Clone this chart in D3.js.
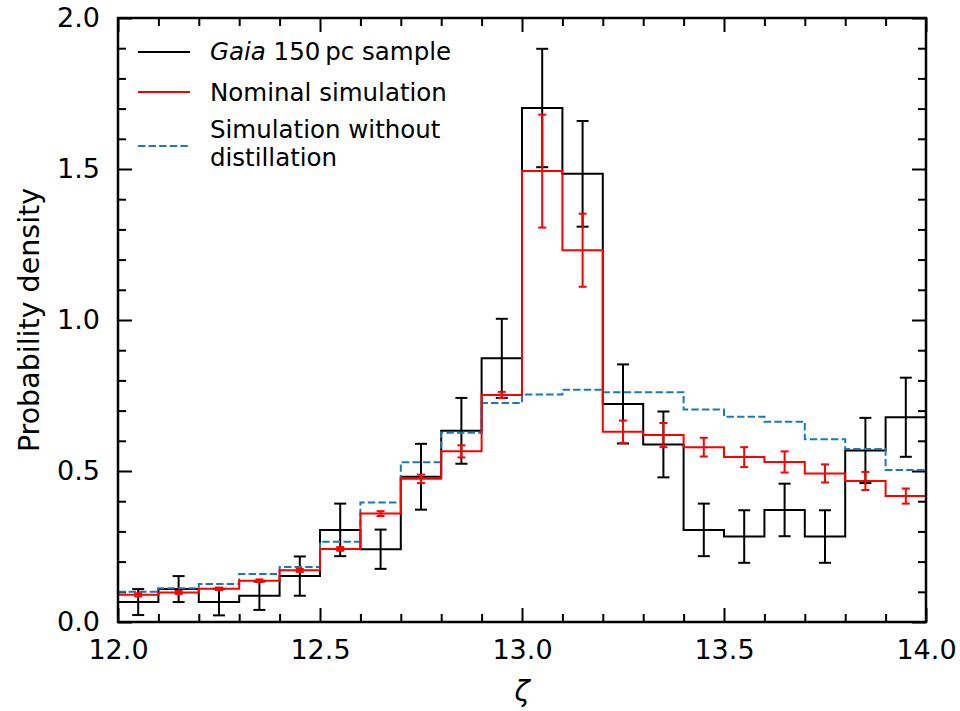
<!DOCTYPE html>
<html>
<head>
<meta charset="utf-8">
<script src="https://cdn.jsdelivr.net/npm/d3@7"></script>
<style>
  body { margin: 0; background: #fff; }
  svg text { font-family: "DejaVu Sans", sans-serif; }
</style>
</head>
<body>
<div id="container"></div>
<script>
/* DATA */
const binEdges = [12.0, 12.1, 12.2, 12.3, 12.4, 12.5, 12.6, 12.7, 12.8, 12.9,
                  13.0, 13.1, 13.2, 13.3, 13.4, 13.5, 13.6, 13.7, 13.8, 13.9, 14.0];
const binCenters = [12.05, 12.15, 12.25, 12.35, 12.45, 12.55, 12.65, 12.75, 12.85, 12.95,
                    13.05, 13.15, 13.25, 13.35, 13.45, 13.55, 13.65, 13.75, 13.85, 13.95];

const gaiaValues = [0.066, 0.109, 0.066, 0.087, 0.152, 0.305, 0.241, 0.481, 0.633, 0.873,
                    1.702, 1.484, 0.722, 0.588, 0.305, 0.283, 0.371, 0.283, 0.568, 0.678];
const gaiaErrors = [0.043, 0.043, 0.044, 0.047, 0.065, 0.087, 0.065, 0.109, 0.109, 0.131,
                    0.196, 0.175, 0.131, 0.109, 0.087, 0.087, 0.087, 0.087, 0.108, 0.131];

const nominalValues = [0.090, 0.098, 0.110, 0.137, 0.171, 0.242, 0.359, 0.474, 0.565, 0.752,
                       1.493, 1.231, 0.630, 0.619, 0.579, 0.546, 0.530, 0.492, 0.467, 0.417];
const nominalErrors = [0.005, 0.005, 0.004, 0.004, 0.005, 0.006, 0.008, 0.014, 0.020, 0.010,
                       0.187, 0.121, 0.037, 0.040, 0.031, 0.033, 0.035, 0.030, 0.030, 0.025];

const noDistillValues = [0.100, 0.112, 0.126, 0.159, 0.182, 0.266, 0.396, 0.529, 0.627, 0.725,
                         0.753, 0.769, 0.761, 0.761, 0.704, 0.680, 0.663, 0.605, 0.573, 0.503];

const xMajorTicks = [12.0, 12.5, 13.0, 13.5, 14.0];
const yMajorTicks = [0.0, 0.5, 1.0, 1.5, 2.0];

/* CONSTANTS */
const width = 960;
const height = 711;
const margin = { top: 18, left: 118, right: 34, bottom: 89 };

const xScale = d3.scaleLinear()
  .domain([12.0, 14.0])
  .range([margin.left, width - margin.right]);

const yScale = d3.scaleLinear()
  .domain([0, 2.0])
  .range([height - margin.bottom, margin.top]);

const xMinor = d3.range(120, 141).map((d) => d / 10).filter((d) => !xMajorTicks.includes(d));
const yMinor = d3.range(0, 21).map((d) => d / 10).filter((d) => !yMajorTicks.includes(d));

const svg = d3.select("#container")
  .append("svg")
  .attr("width", width)
  .attr("height", height);

/* AXES ################################################ */
const tickFont = "27px";
const plotBottom = height - margin.bottom;
const plotRight = width - margin.right;

function styleAxis(g) {
  g.select(".domain").remove();
  g.selectAll(".tick line").attr("stroke", "#000").attr("stroke-width", 2);
  g.selectAll(".tick text").style("font-size", tickFont).attr("fill", "#000");
}

// bottom
svg.append("g")
  .attr("transform", `translate(0,${plotBottom})`)
  .call(d3.axisBottom(xScale).tickValues(xMajorTicks).tickSize(-14).tickPadding(18)
    .tickFormat(d3.format(".1f")))
  .call(styleAxis);
svg.append("g")
  .attr("transform", `translate(0,${plotBottom})`)
  .call(d3.axisBottom(xScale).tickValues(xMinor).tickSize(-8).tickFormat(""))
  .call(styleAxis);
// top
svg.append("g")
  .attr("transform", `translate(0,${margin.top})`)
  .call(d3.axisTop(xScale).tickValues(xMajorTicks).tickSize(-14).tickFormat(""))
  .call(styleAxis);
svg.append("g")
  .attr("transform", `translate(0,${margin.top})`)
  .call(d3.axisTop(xScale).tickValues(xMinor).tickSize(-8).tickFormat(""))
  .call(styleAxis);
// left
svg.append("g")
  .attr("transform", `translate(${margin.left},0)`)
  .call(d3.axisLeft(yScale).tickValues(yMajorTicks).tickSize(-14).tickPadding(18)
    .tickFormat(d3.format(".1f")))
  .call(styleAxis);
svg.append("g")
  .attr("transform", `translate(${margin.left},0)`)
  .call(d3.axisLeft(yScale).tickValues(yMinor).tickSize(-8).tickFormat(""))
  .call(styleAxis);
// right
svg.append("g")
  .attr("transform", `translate(${plotRight},0)`)
  .call(d3.axisRight(yScale).tickValues(yMajorTicks).tickSize(-14).tickFormat(""))
  .call(styleAxis);
svg.append("g")
  .attr("transform", `translate(${plotRight},0)`)
  .call(d3.axisRight(yScale).tickValues(yMinor).tickSize(-8).tickFormat(""))
  .call(styleAxis);

// AXIS LABELS
svg.append("text")
  .attr("x", xScale(13.0))
  .attr("y", 701)
  .attr("text-anchor", "middle")
  .style("font-size", "28px")
  .style("font-style", "italic")
  .text("ζ");

svg.append("text")
  .attr("transform", `translate(39,${yScale(1.0)}) rotate(-90)`)
  .attr("text-anchor", "middle")
  .style("font-size", "28.5px")
  .text("Probability density");

/* SERIES ############################################## */
const stepLine = d3.line()
  .x((d) => xScale(d[0]))
  .y((d) => yScale(d[1]))
  .curve(d3.curveStepAfter);

function stepPoints(values) {
  const pts = values.map((v, i) => [binEdges[i], v]);
  pts.push([binEdges[binEdges.length - 1], values[values.length - 1]]);
  return pts;
}

const plot = svg.append("g");

function drawErrorBars(values, errors, color, cap, cls) {
  const g = plot.append("g").attr("class", cls);
  g.selectAll("line.bar")
    .data(values)
    .join("line")
    .attr("class", "bar")
    .attr("x1", (_, i) => xScale(binCenters[i]))
    .attr("x2", (_, i) => xScale(binCenters[i]))
    .attr("y1", (d, i) => yScale(d - errors[i]))
    .attr("y2", (d, i) => yScale(d + errors[i]))
    .attr("stroke", color)
    .attr("stroke-width", 2);
  [-1, 1].forEach((s) => {
    g.selectAll(`line.cap${s}`)
      .data(values)
      .join("line")
      .attr("class", `cap${s}`)
      .attr("x1", (_, i) => xScale(binCenters[i]) - cap)
      .attr("x2", (_, i) => xScale(binCenters[i]) + cap)
      .attr("y1", (d, i) => yScale(d + s * errors[i]))
      .attr("y2", (d, i) => yScale(d + s * errors[i]))
      .attr("stroke", color)
      .attr("stroke-width", 2);
  });
}

// Gaia sample
plot.append("path")
  .attr("d", stepLine(stepPoints(gaiaValues)))
  .attr("fill", "none")
  .attr("stroke", "#000")
  .attr("stroke-width", 2);
drawErrorBars(gaiaValues, gaiaErrors, "#000", 6, "gaia-err");

// without distillation
plot.append("path")
  .attr("d", stepLine(stepPoints(noDistillValues)))
  .attr("fill", "none")
  .attr("stroke", "#1f77b4")
  .attr("stroke-width", 2)
  .attr("stroke-dasharray", "7.4,3.2");

// nominal
plot.append("path")
  .attr("d", stepLine(stepPoints(nominalValues)))
  .attr("fill", "none")
  .attr("stroke", "#ff0000")
  .attr("stroke-width", 2);
drawErrorBars(nominalValues, nominalErrors, "#ff0000", 4, "nominal-err");

// FRAME
svg.append("rect")
  .attr("x", margin.left)
  .attr("y", margin.top)
  .attr("width", plotRight - margin.left)
  .attr("height", plotBottom - margin.top)
  .attr("fill", "none")
  .attr("stroke", "#000")
  .attr("stroke-width", 2.5);

/* LEGEND ############################################## */
const legend = svg.append("g").style("font-size", "24.5px");
const legendItems = [
  { color: "#000", dash: null, y: 52 },
  { color: "#ff0000", dash: null, y: 92 },
  { color: "#1f77b4", dash: "7.4,3.2", y: 146 },
];
legend.selectAll("line")
  .data(legendItems)
  .join("line")
  .attr("x1", 138)
  .attr("x2", 190)
  .attr("y1", (d) => d.y)
  .attr("y2", (d) => d.y)
  .attr("stroke", (d) => d.color)
  .attr("stroke-width", 2)
  .attr("stroke-dasharray", (d) => d.dash);

const t1 = legend.append("text").attr("x", 210).attr("y", 60);
t1.append("tspan").style("font-style", "italic").text("Gaia");
t1.append("tspan").text(" 150\u2009pc sample");

legend.append("text").attr("x", 210).attr("y", 101).text("Nominal simulation");
legend.append("text").attr("x", 210).attr("y", 138).text("Simulation without");
legend.append("text").attr("x", 210).attr("y", 166).text("distillation");
</script>
</body>
</html>
